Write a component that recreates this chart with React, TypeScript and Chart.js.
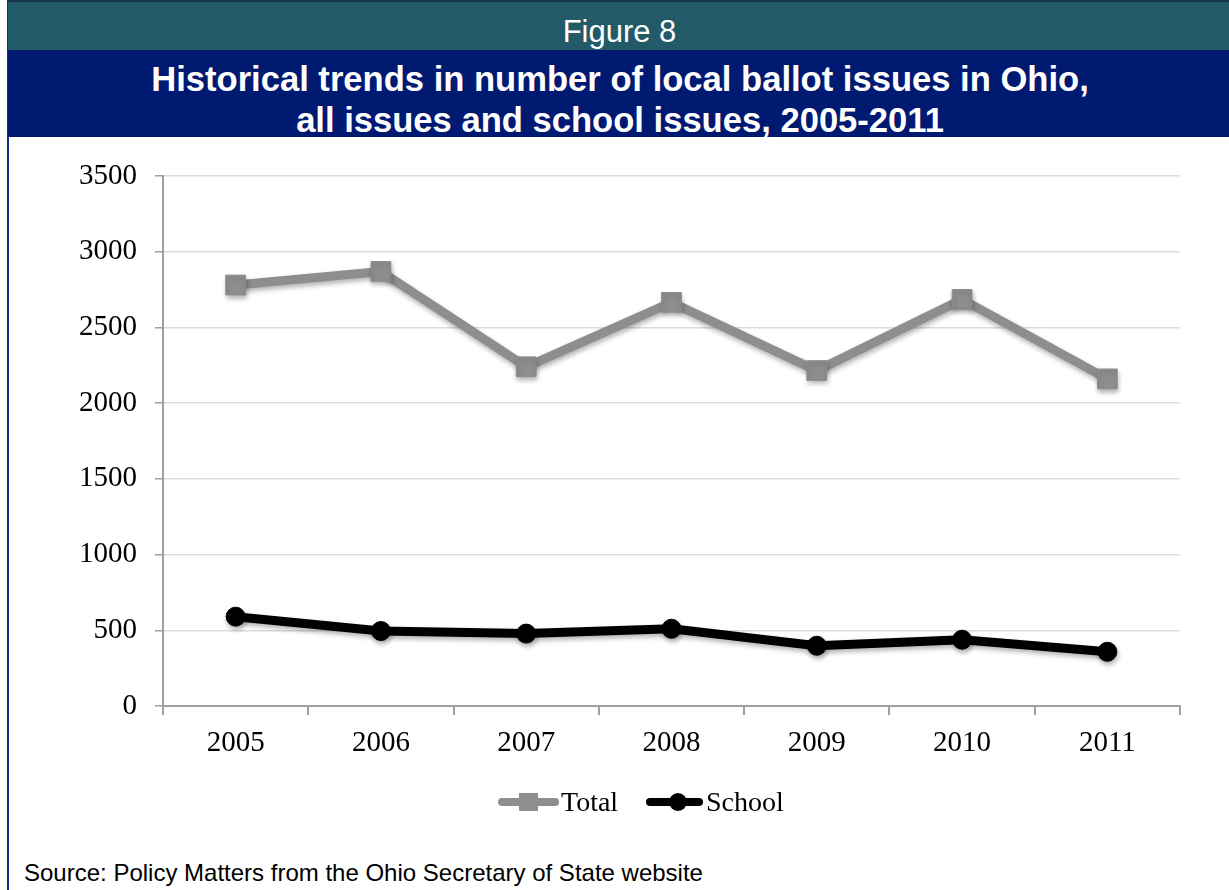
import React, { useEffect, useRef } from "react";
import { Chart, registerables } from "chart.js";

Chart.register(...registerables);

const years = ["2005", "2006", "2007", "2008", "2009", "2010", "2011"];
const totalIssues = [2780, 2870, 2240, 2665, 2215, 2685, 2160];
const schoolIssues = [590, 495, 478, 510, 398, 438, 358];
const yTicks = [0, 500, 1000, 1500, 2000, 2500, 3000, 3500];

const FIGURE_LABEL = "Figure 8";
const TITLE_1 = "Historical trends in number of local ballot issues in Ohio,";
const TITLE_2 = "all issues and school issues, 2005-2011";
const SOURCE = "Source: Policy Matters from the Ohio Secretary of State website";

const GRAY = "#8E8E8E";
const SERIF = "'Liberation Serif', 'DejaVu Serif', serif";
const SANS = "'Liberation Sans', Arial, sans-serif";

const shadowPlugin = {
  id: "markerShadow",
  beforeDatasetDraw(chart: any) {
    const ctx = chart.ctx;
    ctx.save();
    ctx.shadowColor = "rgba(0,0,0,0.3)";
    ctx.shadowBlur = 5;
    ctx.shadowOffsetX = 1;
    ctx.shadowOffsetY = 3;
  },
  afterDatasetDraw(chart: any) {
    chart.ctx.restore();
  },
};

export default function App() {
  const canvasRef = useRef<HTMLCanvasElement | null>(null);

  useEffect(() => {
    if (!canvasRef.current) return;
    const chart = new Chart(canvasRef.current, {
      type: "line",
      data: {
        labels: years,
        datasets: [
          {
            label: "Total",
            data: totalIssues,
            borderColor: GRAY,
            backgroundColor: GRAY,
            borderWidth: 9,
            borderJoinStyle: "round",
            pointStyle: "rect",
            pointRadius: 14,
            pointBorderWidth: 1,
            pointBorderColor: GRAY,
            pointBackgroundColor: GRAY,
            tension: 0,
          },
          {
            label: "School",
            data: schoolIssues,
            borderColor: "#000000",
            backgroundColor: "#000000",
            borderWidth: 9,
            borderJoinStyle: "round",
            pointStyle: "circle",
            pointRadius: 9.5,
            pointBorderWidth: 1,
            pointBorderColor: "#000000",
            pointBackgroundColor: "#000000",
            tension: 0,
          },
        ],
      },
      options: {
        responsive: false,
        animation: false,
        devicePixelRatio: 1,
        layout: { padding: { top: 36, right: 49, bottom: 64, left: 0 } },
        plugins: {
          legend: { display: false },
          tooltip: { enabled: false },
        },
        scales: {
          x: {
            offset: true,
            grid: {
              display: true,
              drawOnChartArea: false,
              offset: true,
              tickLength: 9,
              tickColor: "#A0A0A0",
              lineWidth: 2,
            },
            border: { color: "#A0A0A0", width: 2 },
            ticks: {
              color: "#000",
              font: { family: SERIF, size: 29 },
              padding: 11,
              maxRotation: 0,
            },
            afterFit: (s: any) => {
              s.height = 60;
            },
          },
          y: {
            min: 0,
            max: 3500,
            afterBuildTicks: (s: any) => {
              s.ticks = yTicks.map((v) => ({ value: v }));
            },
            grid: {
              color: "#DCDCDC",
              lineWidth: 1.5,
              tickColor: "#A0A0A0",
              tickLength: 8,
            },
            border: { color: "#A0A0A0", width: 2 },
            ticks: {
              color: "#000",
              font: { family: SERIF, size: 29 },
              padding: 18,
              callback: (v: any) => String(v),
            },
            afterFit: (s: any) => {
              s.width = 163;
            },
          },
        },
      },
      plugins: [shadowPlugin],
    });
    return () => chart.destroy();
  }, []);

  return (
    <div
      style={{
        position: "absolute",
        left: 0,
        top: 0,
        width: 1229,
        height: 890,
        background: "#FFFFFF",
        overflow: "hidden",
      }}
    >
      <div style={{ position: "absolute", left: 7, top: 0, width: 2, height: 890, background: "#14288A" }} />
      <div
        style={{
          position: "absolute",
          left: 8,
          top: 0,
          width: 1221,
          height: 50,
          background: "#235A67",
          borderTop: "2px solid #1A3550",
          boxSizing: "border-box",
          color: "#FFFFFF",
          fontFamily: SANS,
          fontSize: 31,
          lineHeight: "36px",
          paddingTop: 12,
          textAlign: "center",
          paddingLeft: 2,
        }}
      >
        {FIGURE_LABEL}
      </div>
      <div
        style={{
          position: "absolute",
          left: 8,
          top: 50,
          width: 1221,
          height: 87,
          background: "#001A72",
          color: "#FFFFFF",
          fontFamily: SANS,
          fontWeight: "bold",
          fontSize: 34.6,
          lineHeight: "41px",
          textAlign: "center",
          paddingTop: 9,
          boxSizing: "border-box",
          paddingLeft: 3,
        }}
      >
        <div>{TITLE_1}</div>
        <div>{TITLE_2}</div>
      </div>
      <canvas
        ref={canvasRef}
        width={1229}
        height={690}
        style={{ position: "absolute", left: 0, top: 140, width: 1229, height: 690, display: "block" }}
      />
      {/* Legend */}
      <div style={{ position: "absolute", left: 498, top: 793, width: 61, height: 18 }}>
        <div style={{ position: "absolute", left: 0, top: 5, width: 61, height: 8, borderRadius: 4, background: GRAY }} />
        <div style={{ position: "absolute", left: 21, top: 0, width: 19, height: 18, background: GRAY }} />
      </div>
      <div
        style={{
          position: "absolute",
          left: 561,
          top: 786,
          fontFamily: SERIF,
          fontSize: 28,
          lineHeight: "32px",
          color: "#000",
          whiteSpace: "nowrap",
        }}
      >
        Total
      </div>
      <div style={{ position: "absolute", left: 646, top: 793, width: 57, height: 18 }}>
        <div style={{ position: "absolute", left: 0, top: 5, width: 57, height: 8, borderRadius: 4, background: "#000" }} />
        <div style={{ position: "absolute", left: 23, top: 0, width: 18, height: 18, borderRadius: 9, background: "#000" }} />
      </div>
      <div
        style={{
          position: "absolute",
          left: 706,
          top: 786,
          fontFamily: SERIF,
          fontSize: 28,
          lineHeight: "32px",
          color: "#000",
          whiteSpace: "nowrap",
        }}
      >
        School
      </div>
      <div
        style={{
          position: "absolute",
          left: 24,
          top: 859,
          fontFamily: SANS,
          fontSize: 24,
          lineHeight: "28px",
          color: "#000",
          whiteSpace: "nowrap",
        }}
      >
        {SOURCE}
      </div>
    </div>
  );
}
